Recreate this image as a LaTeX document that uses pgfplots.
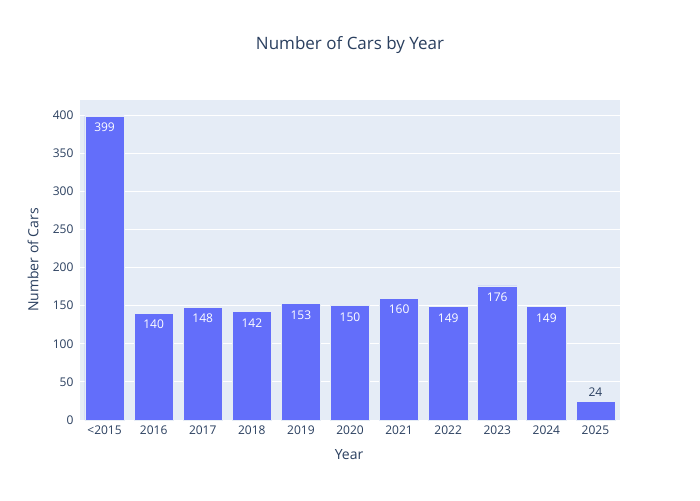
\documentclass[border=0pt]{standalone}
\usepackage{pgfplots}
\pgfplotsset{compat=1.18}
\usepackage{fontspec}
\setmainfont{Open Sans}
\definecolor{bg}{HTML}{E5ECF6}
\definecolor{barc}{HTML}{636EFA}
\definecolor{txt}{HTML}{2A3F5F}
\begin{document}
\begin{tikzpicture}
\useasboundingbox[fill=white] (-80pt,-80pt) rectangle (620pt,420pt);
\begin{axis}[
  at={(0pt,0pt)}, anchor=south west,
  width=540pt, height=320pt, scale only axis,
  xmin=-0.5, xmax=10.5, ymin=0, ymax=419.7,
  axis background/.style={fill=bg},
  axis line style={draw=none},
  tick style={draw=none},
  ymajorgrids, grid style={white, line width=1pt},
  xtick={0,1,2,3,4,5,6,7,8,9,10},
  xticklabels={<2015,2016,2017,2018,2019,2020,2021,2022,2023,2024,2025},
  ytick={0,50,100,150,200,250,300,350,400},
  ticklabel style={font=\fontsize{12}{14}\selectfont, text=txt},
  yticklabel style={xshift=-3pt},
  xticklabel style={yshift=2pt},
  /pgf/number format/assume math mode=true,
  ybar, bar width=0.8, bar shift=0pt,
  clip=false,
]
\addplot[fill=barc, draw=bg, line width=0.5pt,
  nodes near coords,
  every node near coord/.append style={anchor=north, yshift=-3.4pt, text=white, font=\fontsize{12}{14}\selectfont}]
  coordinates {(0,399) (1,140) (2,148) (3,142) (4,153) (5,150) (6,160) (7,149) (8,176) (9,149)};
\addplot[fill=barc, draw=bg, line width=0.5pt,
  nodes near coords,
  every node near coord/.append style={anchor=south, yshift=2pt, text=txt, font=\fontsize{12}{14}\selectfont}]
  coordinates {(10,24)};
\end{axis}
\node[text=txt, font=\fontsize{17}{20}\selectfont] at (270pt,375pt) {Number of Cars by Year};
\node[text=txt, font=\fontsize{14}{17}\selectfont] at (269pt,-35pt) {Year};
\node[text=txt, font=\fontsize{14}{17}\selectfont, rotate=90] at (-47pt,160pt) {Number of Cars};
\end{tikzpicture}
\end{document}
